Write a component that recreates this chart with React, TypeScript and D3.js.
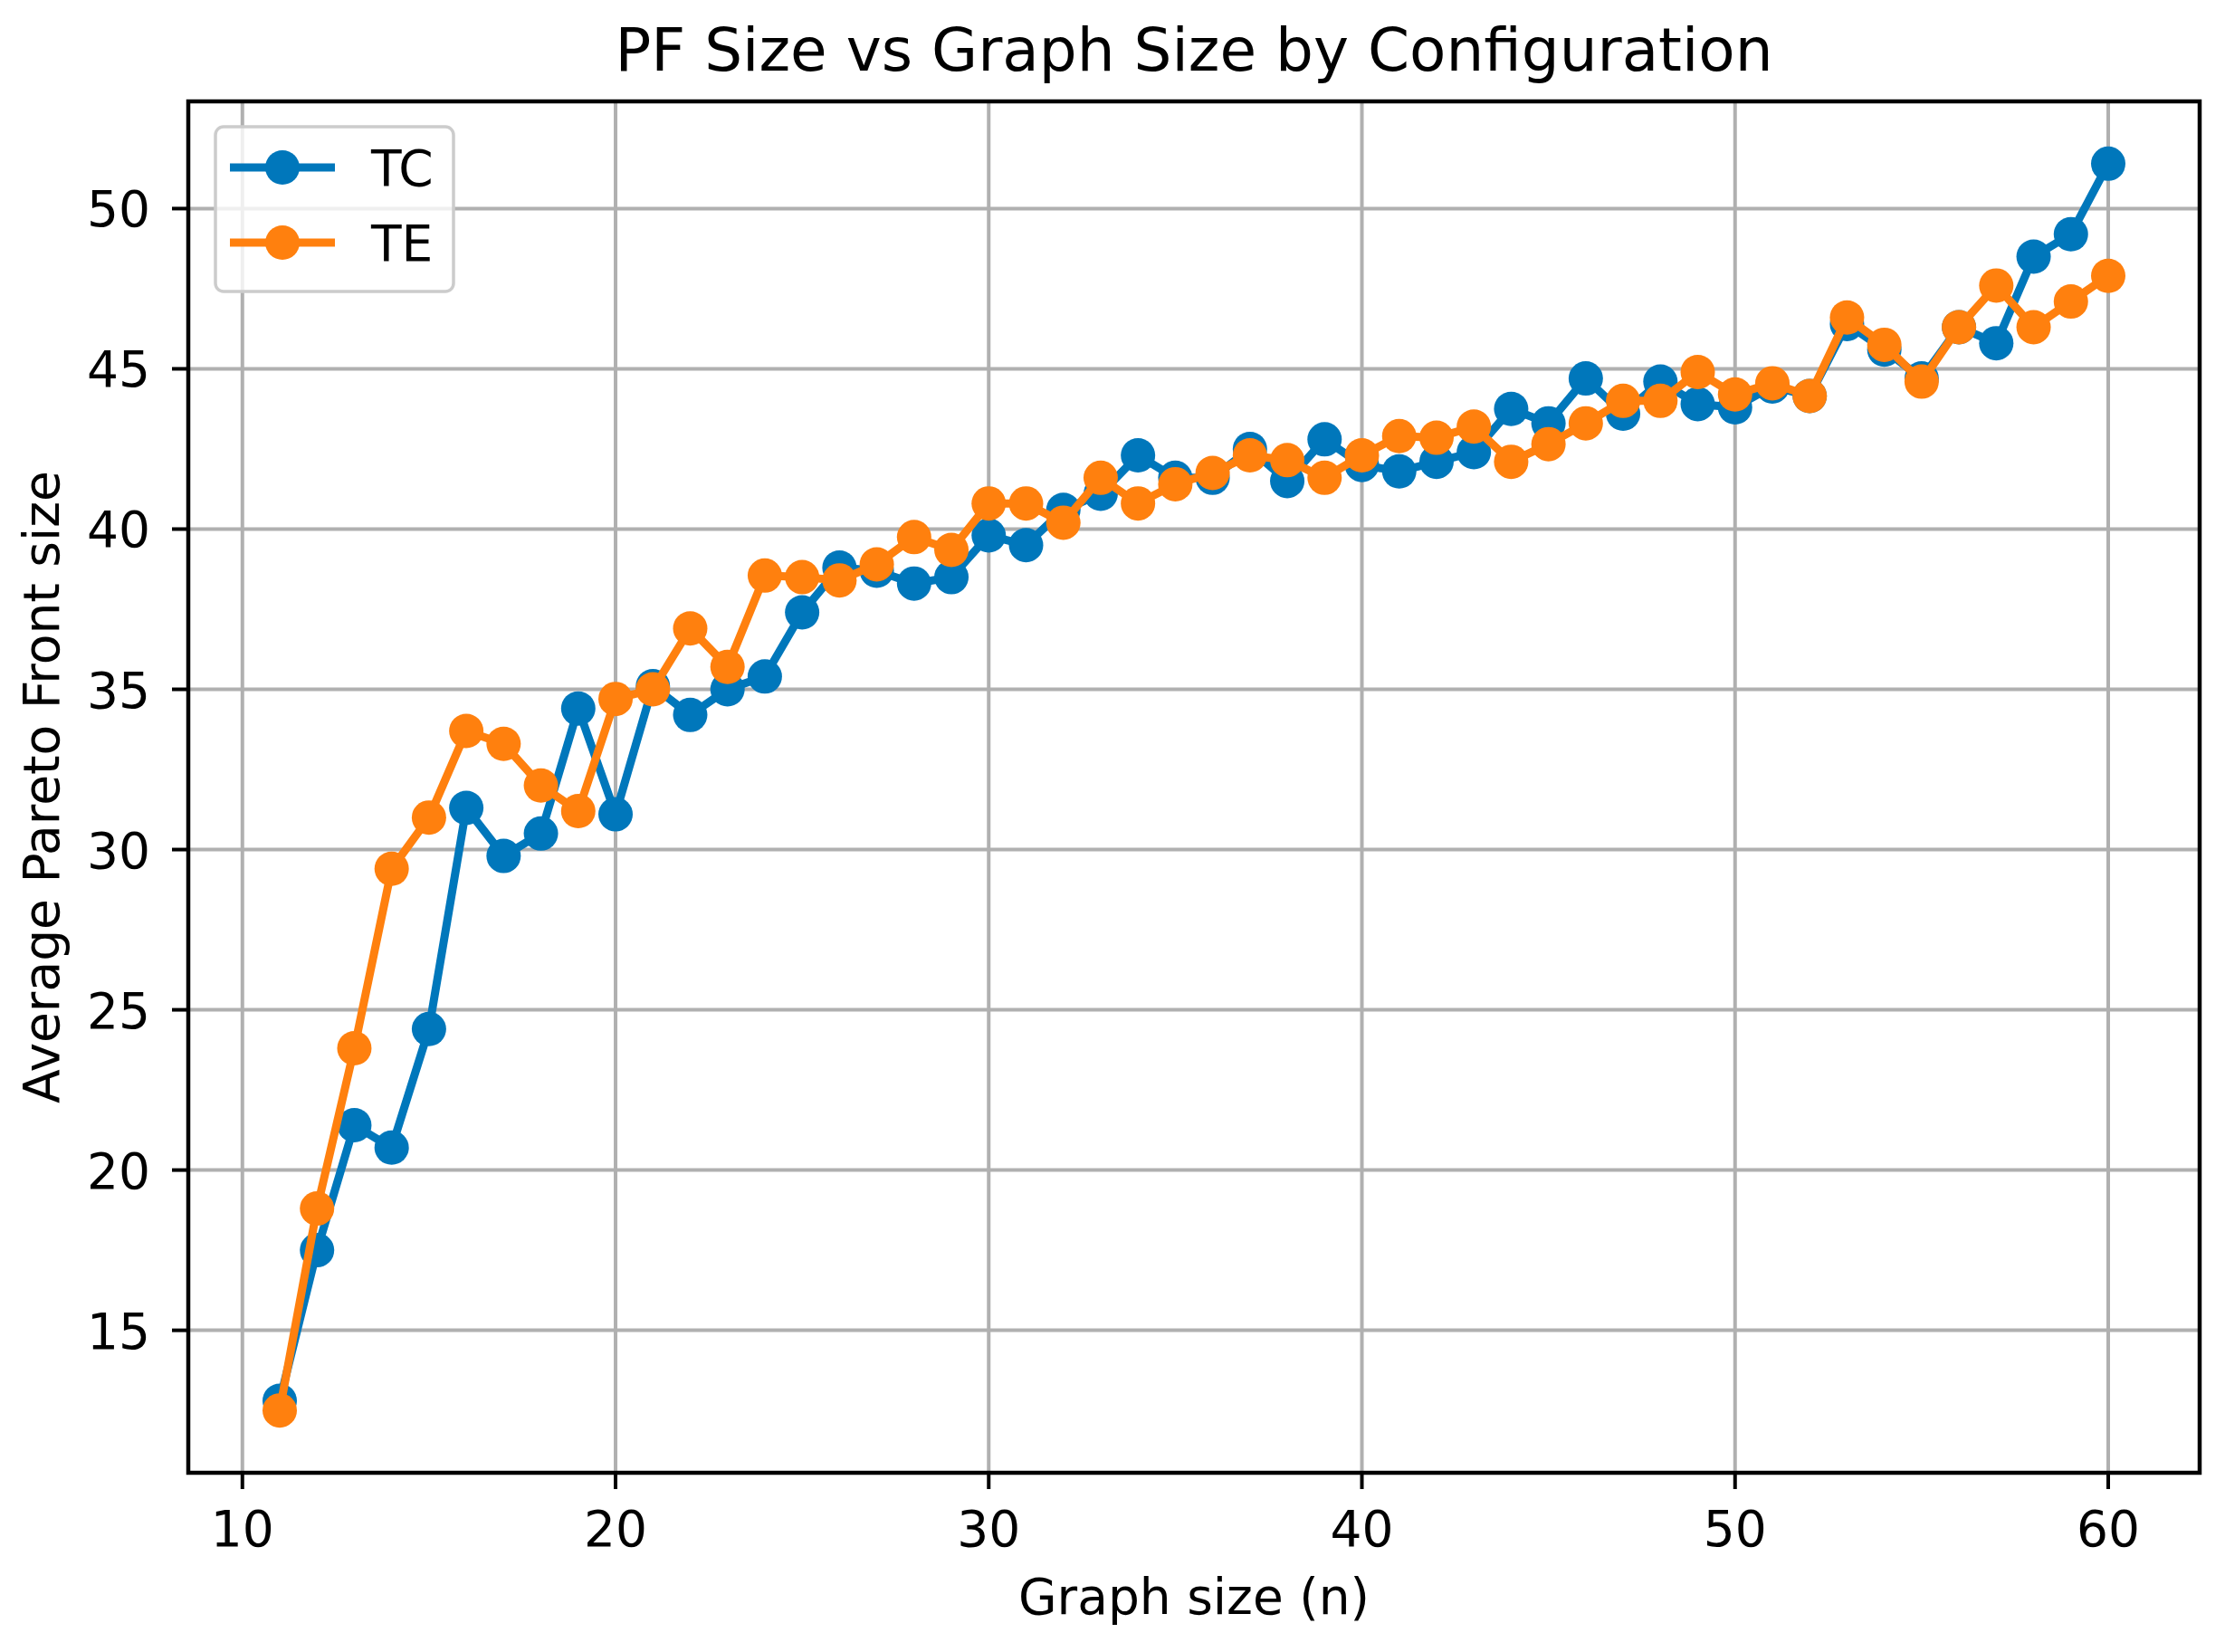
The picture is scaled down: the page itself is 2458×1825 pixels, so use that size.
import React from 'react';
import * as d3 from 'd3';

// graph sizes n = 11 .. 60
const graphSizes = [
  11, 12, 13, 14, 15, 16, 17, 18, 19, 20,
  21, 22, 23, 24, 25, 26, 27, 28, 29, 30,
  31, 32, 33, 34, 35, 36, 37, 38, 39, 40,
  41, 42, 43, 44, 45, 46, 47, 48, 49, 50,
  51, 52, 53, 54, 55, 56, 57, 58, 59, 60,
];

const tcValues = [
  12.8, 17.5, 21.4, 20.7, 24.4, 31.3, 29.8, 30.5, 34.4, 31.1,
  35.1, 34.2, 35.0, 35.4, 37.4, 38.8, 38.7, 38.3, 38.5, 39.8,
  39.5, 40.6, 41.1, 42.3, 41.6, 41.6, 42.5, 41.5, 42.8, 42.0,
  41.8, 42.1, 42.4, 43.75, 43.3, 44.7, 43.6, 44.6, 43.9, 43.8,
  44.45, 44.15, 46.4, 45.6, 44.7, 46.3, 45.8, 48.5, 49.2, 51.4,
];

const teValues = [
  12.5, 18.8, 23.8, 29.4, 31.0, 33.7, 33.3, 32.0, 31.2, 34.7,
  35.0, 36.9, 35.7, 38.55, 38.5, 38.4, 38.9, 39.75, 39.35, 40.8,
  40.8, 40.2, 41.6, 40.8, 41.4, 41.75, 42.3, 42.15, 41.6, 42.3,
  42.9, 42.85, 43.2, 42.1, 42.65, 43.3, 44.0, 44.0, 44.9, 44.2,
  44.55, 44.15, 46.6, 45.75, 44.6, 46.3, 47.6, 46.3, 47.1, 47.9,
];

const seriesNames = ['TC', 'TE'];
const seriesColors = ['#0077bb', '#ff800e'];
const xTicks = [10, 20, 30, 40, 50, 60];
const yTicks = [15, 20, 25, 30, 35, 40, 45, 50];

const W = 2458;
const H = 1825;
const plot = { left: 208, right: 2430, top: 112, bottom: 1627 };
const FONT = '"DejaVu Sans", sans-serif';

const App: React.FC = () => {
  const allY = [...tcValues, ...teValues];
  const xMin = d3.min(graphSizes) as number;
  const xMax = d3.max(graphSizes) as number;
  const yMin = d3.min(allY) as number;
  const yMax = d3.max(allY) as number;
  const xPad = (xMax - xMin) * 0.05;
  const yPad = (yMax - yMin) * 0.05;

  const x = d3.scaleLinear().domain([xMin - xPad, xMax + xPad]).range([plot.left, plot.right]);
  const y = d3.scaleLinear().domain([yMin - yPad, yMax + yPad]).range([plot.bottom, plot.top]);

  const line = d3.line<[number, number]>().x(d => x(d[0])).y(d => y(d[1]));
  const series = [tcValues, teValues].map(vals => graphSizes.map((n, i) => [n, vals[i]] as [number, number]));

  const cx = (plot.left + plot.right) / 2;
  const cy = (plot.top + plot.bottom) / 2;

  return (
    <div style={{ position: 'absolute', left: 0, top: 0 }}>
      <svg width={W} height={H} style={{ display: 'block', background: '#fff' }} fontFamily={FONT}>
        <defs>
          <clipPath id="plotClip">
            <rect x={plot.left} y={plot.top} width={plot.right - plot.left} height={plot.bottom - plot.top} />
          </clipPath>
        </defs>

        {/* grid */}
        <g stroke="#b0b0b0" strokeWidth={4}>
          {xTicks.map(t => (
            <line key={'gx' + t} x1={x(t)} x2={x(t)} y1={plot.top} y2={plot.bottom} />
          ))}
          {yTicks.map(t => (
            <line key={'gy' + t} x1={plot.left} x2={plot.right} y1={y(t)} y2={y(t)} />
          ))}
        </g>

        {/* series */}
        <g clipPath="url(#plotClip)">
          {series.map((pts, si) => (
            <g key={seriesNames[si]}>
              <path d={line(pts) || ''} fill="none" stroke={seriesColors[si]} strokeWidth={9} strokeLinejoin="round" />
              {pts.map(p => (
                <circle key={p[0]} cx={x(p[0])} cy={y(p[1])} r={19} fill={seriesColors[si]} />
              ))}
            </g>
          ))}
        </g>

        {/* spines */}
        <rect x={plot.left} y={plot.top} width={plot.right - plot.left} height={plot.bottom - plot.top}
          fill="none" stroke="#000" strokeWidth={4.5} />

        {/* x ticks */}
        {xTicks.map(t => (
          <g key={'xt' + t}>
            <line x1={x(t)} x2={x(t)} y1={plot.bottom} y2={plot.bottom + 18} stroke="#000" strokeWidth={4} />
            <text x={x(t)} y={1708} textAnchor="middle" fontSize={55} fill="#000">{t}</text>
          </g>
        ))}

        {/* y ticks */}
        {yTicks.map(t => (
          <g key={'yt' + t}>
            <line x1={plot.left - 18} x2={plot.left} y1={y(t)} y2={y(t)} stroke="#000" strokeWidth={4} />
            <text x={166} y={y(t) + 20} textAnchor="end" fontSize={55} fill="#000">{t}</text>
          </g>
        ))}

        {/* labels */}
        <text x={cx} y={78} textAnchor="middle" fontSize={66} fill="#000">PF Size vs Graph Size by Configuration</text>
        <text x={cx} y={1783} textAnchor="middle" fontSize={55} fill="#000">Graph size (n)</text>
        <text transform={`translate(65,${cy}) rotate(-90)`} textAnchor="middle" fontSize={55} fill="#000">
          Average Pareto Front size
        </text>

        {/* legend */}
        <g>
          <rect x={238} y={140} width={263} height={182} rx={9} fill="#fff" fillOpacity={0.8}
            stroke="#cccccc" strokeWidth={3.5} />
          {seriesNames.map((name, i) => {
            const ly = 185 + i * 83;
            return (
              <g key={'lg' + name}>
                <line x1={254} x2={370} y1={ly} y2={ly} stroke={seriesColors[i]} strokeWidth={9} />
                <circle cx={312} cy={ly} r={19} fill={seriesColors[i]} />
                <text x={410} y={ly + 20} fontSize={55} fill="#000">{name}</text>
              </g>
            );
          })}
        </g>
      </svg>
    </div>
  );
};

export default App;
